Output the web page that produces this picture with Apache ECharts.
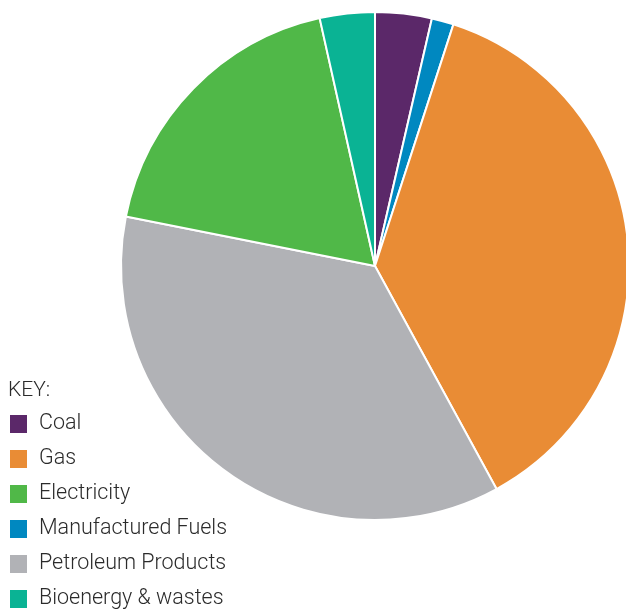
<!DOCTYPE html>
<html>
<head>
<meta charset="utf-8">
<script src="https://cdn.jsdelivr.net/npm/echarts@6/dist/echarts.min.js"></script>
<style>
html,body{margin:0;padding:0;background:#fff;}
#chart{width:626px;height:610px;}
</style>
</head>
<body>
<div id="chart"></div>
<script>
// Slices in clockwise order from 12 o'clock
const sliceNames = ['Coal', 'Manufactured Fuels', 'Gas', 'Petroleum Products', 'Electricity', 'Bioenergy & wastes'];
const sliceValues = [3.6, 1.4, 37.1, 36.1, 18.4, 3.5];
const sliceColors = ['#5B2869', '#0088C0', '#E98C35', '#B1B2B6', '#50B848', '#0AB394'];
// Legend (key) order
const keyOrder = ['Coal', 'Gas', 'Electricity', 'Manufactured Fuels', 'Petroleum Products', 'Bioenergy & wastes'];
const keyTitle = 'KEY:';

const chart = echarts.init(document.getElementById('chart'));
chart.setOption({
  animation: false,
  backgroundColor: '#fff',
  title: {
    text: keyTitle,
    left: 3,
    top: 375,
    textStyle: {fontFamily: 'Roboto', fontWeight: 300, fontSize: 21, color: '#2b2b2b'}
  },
  legend: {
    orient: 'vertical',
    left: 8,
    top: 413,
    height: 220,
    padding: 0,
    itemWidth: 19,
    itemHeight: 20,
    itemGap: 13,
    icon: 'rect',
    data: keyOrder,
    textStyle: {fontFamily: 'Roboto', fontWeight: 300, fontSize: 21.5, color: '#2b2b2b', padding: [0, 0, 0, 6]}
  },
  series: [{
    type: 'pie',
    center: [375, 266],
    radius: 254,
    startAngle: 90,
    clockwise: true,
    label: {show: false},
    labelLine: {show: false},
    itemStyle: {borderColor: '#fff', borderWidth: 2},
    data: sliceNames.map((n, i) => ({name: n, value: sliceValues[i], itemStyle: {color: sliceColors[i]}}))
  }]
});
</script>
</body>
</html>
